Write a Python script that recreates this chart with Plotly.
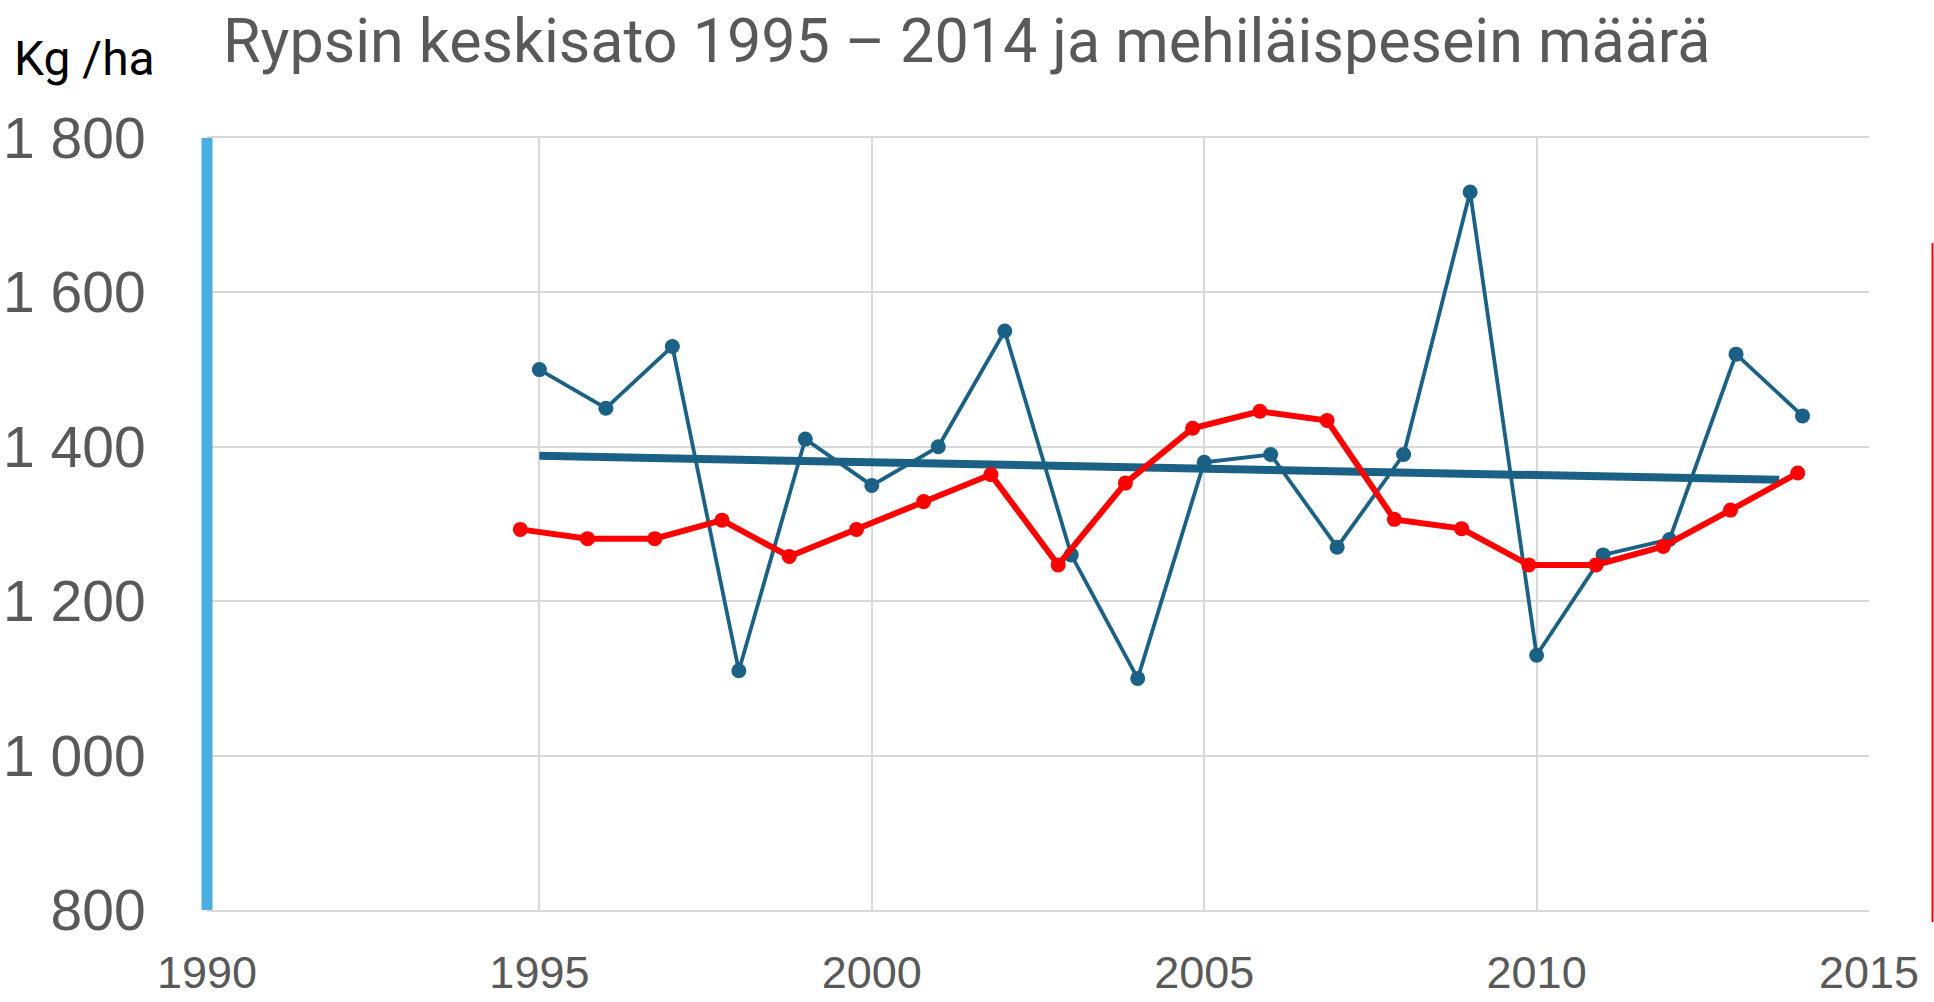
import numpy as np
import plotly.graph_objects as go

# ---- data ----
years = list(range(1995, 2015))
yield_kg_ha = [1500, 1450, 1530, 1110, 1410, 1350, 1400, 1550, 1260, 1100,
               1380, 1390, 1270, 1390, 1730, 1130, 1260, 1280, 1520, 1440]
# bee colonies series (drawn on its own, slightly offset category axis; shown in the kg/ha scale)
colonies_scaled = [1293, 1281, 1281, 1305, 1258, 1293, 1329, 1364, 1247, 1353,
                   1424, 1446, 1434, 1306, 1294, 1247, 1247, 1271, 1318, 1366]
y_ticks = [800, 1000, 1200, 1400, 1600, 1800]
y_tick_text = ["800", "1 000", "1 200", "1 400", "1 600", "1 800"]
x_ticks = [1990, 1995, 2000, 2005, 2010, 2015]
trend_end = 2013.65

BLUE = "#1A6185"
RED = "#FF0000"
GRID = "#D9D9D9"
TXT = "#595959"

slope, intercept = np.polyfit(years, yield_kg_ha, 1)
trend_x = [years[0], trend_end]
trend_y = [slope * x + intercept for x in trend_x]

fig = go.Figure()
fig.add_trace(go.Scatter(x=trend_x, y=trend_y, mode="lines",
                         line=dict(color=BLUE, width=8), showlegend=False, hoverinfo="skip"))
fig.add_trace(go.Scatter(x=years, y=yield_kg_ha, mode="lines+markers",
                         line=dict(color=BLUE, width=3.8),
                         marker=dict(color=BLUE, size=15), showlegend=False))
fig.add_trace(go.Scatter(x=years, y=colonies_scaled, mode="lines+markers", xaxis="x2",
                         line=dict(color=RED, width=6),
                         marker=dict(color=RED, size=15), showlegend=False))

W, H = 1934, 1002
L, R, T, B = 207, 65, 138, 92
PW, PH = W - L - R, H - T - B

fig.update_layout(
    width=W, height=H,
    margin=dict(l=L, r=R, t=T, b=B, autoexpand=False),
    paper_bgcolor="white", plot_bgcolor="white",
    xaxis=dict(range=[1990, 2015], tickvals=x_ticks, showgrid=True, gridcolor=GRID, gridwidth=1.5,
               zeroline=False, showline=True, linecolor=GRID, linewidth=1.5, mirror=True,
               ticks="outside", ticklen=22, tickcolor="rgba(0,0,0,0)", automargin=False,
               tickfont=dict(family="Liberation Sans, Arial", size=45, color=TXT)),
    xaxis2=dict(range=[1990.34, 2015.06], overlaying="x", visible=False),
    yaxis=dict(range=[800, 1800], tickvals=y_ticks, ticktext=y_tick_text,
               showgrid=True, gridcolor=GRID, gridwidth=1.5, zeroline=False, automargin=False,
               ticks="outside", ticklen=49, tickcolor="rgba(0,0,0,0)",
               tickfont=dict(family="Liberation Sans, Arial", size=57, color=TXT)),
    title=dict(text="Rypsin keskisato 1995 – 2014 ja mehiläispesein määrä",
               x=223 / W, xanchor="left", xref="container",
               y=1 - 41 / H, yanchor="middle",
               font=dict(family="Roboto", size=61, color=TXT)),
    shapes=[
        dict(type="line", xref="paper", yref="paper", x0=0, x1=0, y0=0, y1=1,
             line=dict(color="#4AAEE0", width=11), layer="above"),
        dict(type="line", xref="paper", yref="paper", x0=(1932.5 - L) / PW, x1=(1932.5 - L) / PW,
             y0=(H - B - 922) / PH, y1=(H - B - 243) / PH,
             line=dict(color=RED, width=2)),
    ],
    annotations=[
        dict(text="Kg /ha", xref="paper", yref="paper", x=-(L - 12) / PW, xanchor="left",
             y=(H - B - 58) / PH, yanchor="middle", showarrow=False,
             font=dict(family="Roboto", size=48, color="black")),
    ],
)

fig.write_html("out.html", config={"displayModeBar": False},
               post_script="document.body.style.margin='0';")
